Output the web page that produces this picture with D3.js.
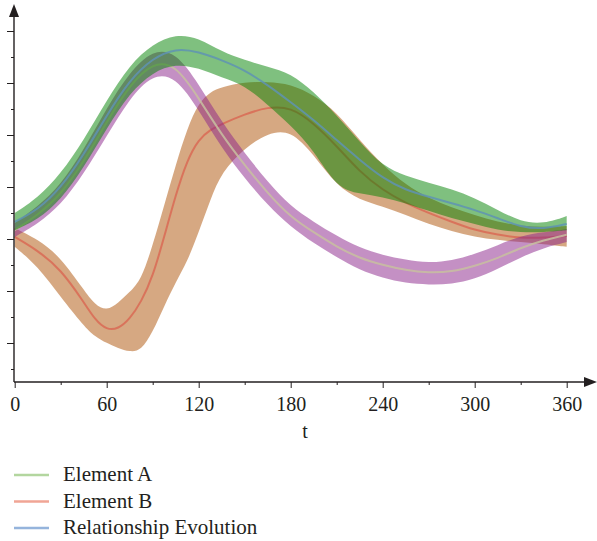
<!DOCTYPE html>
<html>
<head>
<meta charset="utf-8">
<script src="https://cdn.jsdelivr.net/npm/d3@7"></script>
<style>
  html, body { margin: 0; padding: 0; background: #fff; }
  svg { display: block; }
  text { font-family: "Liberation Serif", "Times New Roman", serif; fill: #231f20; }
</style>
</head>
<body>
<svg id="chart" width="597" height="541"></svg>
<script>
// ---- data ----
const tValues = [0,15,30,45,60,75,90,105,120,135,150,165,180,195,210,225,240,255,270,285,300,315,330,345,360];

// Relationship Evolution (blue line, green band)
const relLine  = [-0.67,-0.44,-0.02,0.62,1.38,2.06,2.48,2.67,2.60,2.44,2.25,1.96,1.63,1.29,0.90,0.52,0.17,-0.06,-0.19,-0.31,-0.44,-0.60,-0.77,-0.81,-0.71];
const relUpper = [-0.50,-0.21,0.25,0.90,1.67,2.35,2.75,2.94,2.87,2.60,2.44,2.31,2.19,1.83,1.38,0.87,0.40,0.21,0.08,-0.04,-0.21,-0.44,-0.67,-0.71,-0.56];
const relLower = [-0.83,-0.63,-0.25,0.37,1.13,1.81,2.21,2.37,2.29,2.10,1.96,1.58,1.19,0.71,-0.02,-0.13,-0.19,-0.31,-0.46,-0.60,-0.71,-0.83,-0.87,-0.87,-0.83];

// Element A (light line, purple band)
const aLine  = [-0.83,-0.54,-0.15,0.48,1.25,1.96,2.40,2.36,1.71,1.00,0.42,-0.12,-0.58,-0.87,-1.15,-1.37,-1.50,-1.60,-1.65,-1.63,-1.52,-1.37,-1.17,-1.02,-0.92];
const aUpper = [-0.69,-0.38,0.04,0.71,1.52,2.21,2.64,2.60,1.98,1.25,0.65,0.10,-0.38,-0.67,-0.94,-1.17,-1.31,-1.40,-1.46,-1.42,-1.29,-1.12,-0.94,-0.87,-0.81];
const aLower = [-0.96,-0.71,-0.35,0.25,0.98,1.71,2.17,2.13,1.48,0.75,0.17,-0.35,-0.77,-1.08,-1.35,-1.60,-1.75,-1.85,-1.88,-1.87,-1.77,-1.58,-1.35,-1.17,-1.06];

// Element B (red line, orange band) - sampled more finely where it turns sharply
const tValuesB = [0,15,30,45,52.5,60,67.5,75,82.5,90,97.5,105,112.5,120,127.5,135,150,165,180,195,210,225,240,255,270,285,300,315,330,345,360];
const bLine  = [-0.96,-1.22,-1.58,-2.21,-2.56,-2.75,-2.73,-2.54,-2.21,-1.73,-0.96,-0.15,0.52,0.92,1.10,1.21,1.40,1.54,1.54,1.23,0.79,0.29,-0.06,-0.31,-0.50,-0.67,-0.83,-0.92,-0.98,-0.98,-0.94];
const bUpper = [-0.79,-1.00,-1.35,-1.98,-2.27,-2.38,-2.23,-2.02,-1.79,-1.12,-0.35,0.42,1.13,1.62,1.83,1.92,2.02,2.02,1.98,1.77,1.44,0.90,0.42,0.04,-0.21,-0.40,-0.54,-0.67,-0.75,-0.77,-0.75];
const bLower = [-1.15,-1.52,-2.12,-2.67,-2.88,-3.00,-3.10,-3.17,-3.15,-2.79,-2.29,-1.83,-1.44,-0.87,-0.25,0.29,0.75,1.04,1.10,0.62,0.02,-0.25,-0.37,-0.54,-0.71,-0.85,-0.96,-1.02,-1.06,-1.10,-1.15];

const xMajorTicks = [0,60,120,180,240,300,360];
const xMinorTicks = [30,90,150,210,270,330];
const yMajorTicks = [-3,-2,-1,0,1,2,3];
const yMinorTicks = [-3.5,-2.5,-1.5,-0.5,0.5,1.5,2.5];
const legendLabels = ["Element A","Element B","Relationship Evolution"];
const xLabel = "t";

// ---- layout ----
const svg = d3.select("#chart");
const x = d3.scaleLinear().domain([0,360]).range([14.7,566.7]);
const y = d3.scaleLinear().domain([-3.75,3.5]).range([382,5]);
const originX = 14, originY = 382;

const series = [
  {t:tValuesB, line:bLine,   upper:bUpper,   lower:bLower,   band:"rgba(173,81,5,0.5)",  stroke:"#d96a55"},
  {t:tValues,  line:aLine,   upper:aUpper,   lower:aLower,   band:"rgba(137,33,137,0.5)",stroke:"#c8c0a0"},
  {t:tValues,  line:relLine, upper:relUpper, lower:relLower, band:"rgba(0,130,0,0.5)",   stroke:"#5f93b3"}
];

const curve = d3.curveBasis;

const plot = svg.append("g");
series.forEach(s => {
  const area = d3.area().curve(curve)
    .x((d,i)=>x(s.t[i])).y0(d=>y(d[0])).y1(d=>y(d[1]));
  const line = d3.line().curve(curve)
    .x((d,i)=>x(s.t[i])).y(d=>y(d));
  const pts = s.t.map((t,i)=>[s.lower[i], s.upper[i]]);
  plot.append("path").attr("d", area(pts)).attr("fill", s.band).attr("stroke","none");
  plot.append("path").attr("d", line(s.line)).attr("fill","none")
    .attr("stroke", s.stroke).attr("stroke-width", 2).attr("stroke-opacity",0.85);
});

// ---- axes ----
const xAxisMajor = d3.axisBottom(x).tickValues(xMajorTicks).tickSize(6).tickPadding(9).tickFormat(d3.format("d"));
const xAxisMinor = d3.axisBottom(x).tickValues(xMinorTicks).tickSize(3).tickFormat("");
const yAxisMajor = d3.axisLeft(y).tickValues(yMajorTicks).tickSize(7).tickFormat("");
const yAxisMinor = d3.axisLeft(y).tickValues(yMinorTicks).tickSize(3).tickFormat("");

function styleAxis(g){
  g.select(".domain").remove();
  g.selectAll(".tick line").attr("stroke","#231f20").attr("stroke-width",1);
  g.selectAll(".tick text").attr("font-family","Liberation Serif, serif").attr("font-size",20).attr("fill","#231f20");
}
svg.append("g").attr("transform",`translate(0,${originY})`).call(xAxisMajor).call(styleAxis);
svg.append("g").attr("transform",`translate(0,${originY})`).call(xAxisMinor).call(styleAxis);
svg.append("g").attr("transform",`translate(${originX},0)`).call(yAxisMajor).call(styleAxis);
svg.append("g").attr("transform",`translate(${originX},0)`).call(yAxisMinor).call(styleAxis);

// axis lines with arrows
svg.append("line").attr("x1",originX).attr("y1",originY).attr("x2",586).attr("y2",originY)
  .attr("stroke","#231f20").attr("stroke-width",1.4);
svg.append("line").attr("x1",originX).attr("y1",originY).attr("x2",originX).attr("y2",14)
  .attr("stroke","#231f20").attr("stroke-width",1.4);
svg.append("path").attr("d",`M597,${originY} L584,${originY-5} L584,${originY+5} Z`).attr("fill","#231f20");
svg.append("path").attr("d",`M${originX},4 L${originX-5},17 L${originX+5},17 Z`).attr("fill","#231f20");

svg.append("text").attr("x",305).attr("y",438).attr("text-anchor","middle")
  .attr("font-size",20).text(xLabel);

// ---- legend ----
const legendColors = ["#b3d69f","#f0a595","#95b4dc"];
const lg = svg.append("g");
legendLabels.forEach((lab,i)=>{
  const by = 481 + i*26.5;
  lg.append("line").attr("x1",14).attr("x2",49).attr("y1",by-6).attr("y2",by-6)
    .attr("stroke",legendColors[i]).attr("stroke-width",2.5);
  lg.append("text").attr("x",63).attr("y",by).attr("font-size",21).text(lab);
});
</script>
</body>
</html>
